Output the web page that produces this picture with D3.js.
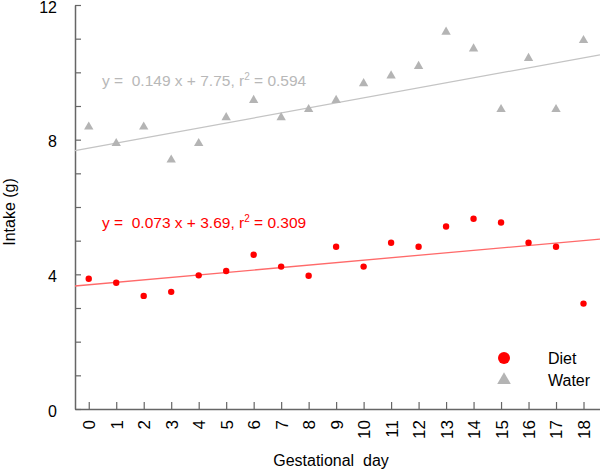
<!DOCTYPE html>
<html><head><meta charset="utf-8">
<script src="https://cdn.jsdelivr.net/npm/d3@7"></script>
<style>body{margin:0;background:#fff}svg{display:block;font-family:"Liberation Sans",Arial,sans-serif}</style>
</head><body><svg id="c" width="600" height="471"></svg>
<script>
const days = [0,1,2,3,4,5,6,7,8,9,10,11,12,13,14,15,16,17,18];
const dietValues = [3.87,3.75,3.36,3.48,3.97,4.1,4.58,4.23,3.96,4.82,4.23,4.94,4.82,5.42,5.65,5.54,4.94,4.82,3.13];
const waterValues = [8.38,7.89,8.38,7.4,7.89,8.66,9.17,8.66,8.9,9.17,9.67,9.9,10.18,11.2,10.7,8.9,10.42,8.9,10.95];
const dietFit = {slope:0.073, intercept:3.69, r2:0.309};
const waterFit = {slope:0.149, intercept:7.75, r2:0.594};
const yTicks = [0,1,2,3,4,5,6,7,8,9,10,11,12];
const yLabels = [0,4,8,12];
const seriesNames = ["Diet","Water"];

const svg = d3.select("#c");
const x = d3.scaleLinear().domain([-0.5,18.6]).range([75,600]);
const y = d3.scaleLinear().domain([0,12]).range([409,5]);
const axisColor = "#666";

// Y axis
const ya = svg.append("g").attr("transform","translate(75,0)")
  .call(d3.axisLeft(y).tickValues(yTicks).tickSizeInner(-6).tickSizeOuter(0)
    .tickPadding(18).tickFormat(d => yLabels.includes(d) ? d : ""));
ya.select(".domain").attr("stroke",axisColor).attr("stroke-width",1.5);
ya.selectAll(".tick line").attr("stroke",axisColor).attr("stroke-width",1.2);
ya.selectAll(".tick text").attr("font-size",16).attr("fill","#000").attr("dy","0.45em")
  .attr("font-family","Liberation Sans, Arial");

// X axis
const xa = svg.append("g").attr("transform","translate(0,409)")
  .call(d3.axisBottom(x).tickValues(days).tickSizeInner(-7).tickSizeOuter(0).tickFormat(d=>d));
xa.select(".domain").attr("stroke",axisColor).attr("stroke-width",1.5);
xa.selectAll(".tick line").attr("stroke",axisColor).attr("stroke-width",1.2);
xa.selectAll(".tick text").attr("font-size",17).attr("fill","#000")
  .attr("font-family","Liberation Sans, Arial")
  .attr("text-anchor","end").attr("dy","0.35em")
  .attr("transform","translate(0,11) rotate(-90)").attr("x",0).attr("y",0);

// Regression lines
const xd = x.domain();
function fitLine(f, color){
  svg.append("line")
    .attr("x1",x(xd[0])).attr("y1",y(f.intercept+f.slope*xd[0]))
    .attr("x2",x(xd[1])).attr("y2",y(f.intercept+f.slope*xd[1]))
    .attr("stroke",color).attr("stroke-width",1.3);
}
fitLine(waterFit,"#c4c4c4");
fitLine(dietFit,"#ff6a6a");

// Points
const tri = d3.symbol().type(d3.symbolTriangle).size(38);
svg.append("g").selectAll("path").data(days).join("path")
  .attr("d",tri).attr("fill","#b4b4b4")
  .attr("transform",(d,i)=>`translate(${x(d)},${y(waterValues[i])})`);
svg.append("g").selectAll("circle").data(days).join("circle")
  .attr("cx",d=>x(d)).attr("cy",(d,i)=>y(dietValues[i])).attr("r",3.2).attr("fill","#ff0000");

// Equations
function eq(f, color, yy){
  const t = svg.append("text").attr("x",102).attr("y",yy).attr("font-size",15.5)
    .attr("fill",color).attr("xml:space","preserve");
  t.append("tspan").text(`y =  ${f.slope.toFixed(3)} x + ${f.intercept.toFixed(2)}, r`);
  t.append("tspan").attr("font-size",10).attr("dy",-6).text("2");
  t.append("tspan").attr("dy",6).text(` = ${f.r2.toFixed(3)}`);
}
eq(waterFit,"#b8b8b8",86);
eq(dietFit,"#ff0000",228);

// Axis titles
svg.append("text").attr("transform","translate(15,212) rotate(-90)").attr("text-anchor","middle")
  .attr("font-size",16).text("Intake (g)");
svg.append("text").attr("x",331).attr("y",466).attr("text-anchor","middle")
  .attr("font-size",16).attr("xml:space","preserve").text("Gestational  day");

// Legend
svg.append("circle").attr("cx",504).attr("cy",358).attr("r",6).attr("fill","#ff0000");
svg.append("path").attr("d",d3.symbol().type(d3.symbolTriangle).size(80)).attr("fill","#b4b4b4")
  .attr("transform","translate(504,380)");
svg.append("text").attr("x",548).attr("y",364).attr("font-size",16).text(seriesNames[0]);
svg.append("text").attr("x",548).attr("y",386).attr("font-size",16).text(seriesNames[1]);
</script></body></html>
